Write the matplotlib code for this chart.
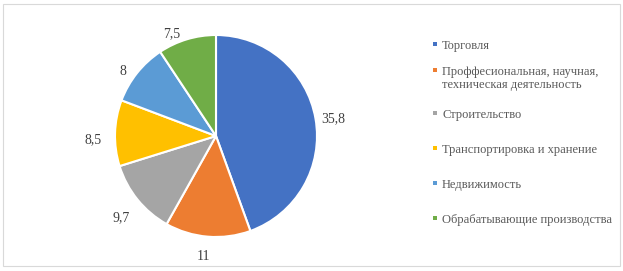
import numpy as np
import matplotlib.pyplot as plt
from matplotlib.patches import Rectangle

# --- данные ---
otrasli = [
    'Торговля',
    'Проффесиональная, научная,\nтехническая деятельность',
    'Строительство',
    'Транспортировка и хранение',
    'Недвижимость',
    'Обрабатывающие производства',
]
doli = [35.8, 11, 9.7, 8.5, 8, 7.5]
podpisi = ['35,8', '11', '9,7', '8,5', '8', '7,5']
cveta = ['#4472C4', '#ED7D31', '#A5A5A5', '#FFC000', '#5B9BD5', '#70AD47']

# размещение подписей (как у Excel «у края снаружи»): доля радиуса и сдвиг угла
lbl_r = [1.17, 1.20, 1.24, 1.22, 1.12, 1.10]
lbl_dang = [-1.5, -1, 1.5, 3.5, 3.5, 6.5]

plt.rcParams['font.family'] = ['Liberation Serif', 'DejaVu Serif']

W, H = 623, 271
fig = plt.figure(figsize=(W / 100, H / 100), dpi=100)

# рамка вокруг диаграммы
fig.patches.append(Rectangle((3 / W, 5 / H), 617 / W, 262 / H, transform=fig.transFigure,
                             fill=False, edgecolor='#D9D9D9', linewidth=0.8))

# круг: центр (216, 136) px, радиус ~101 px
cx, cy, r = 216, 136, 101
ax = fig.add_axes([(cx - r) / W, (H - cy - r) / H, 2 * r / W, 2 * r / H])
wedges, texts = ax.pie(doli, colors=cveta, labels=podpisi, startangle=90, counterclock=False,
                       wedgeprops=dict(edgecolor='white', linewidth=1.5),
                       textprops=dict(fontsize=10, color='#404040'))
for w, t, rr, da in zip(wedges, texts, lbl_r, lbl_dang):
    ang = np.deg2rad((w.theta1 + w.theta2) / 2 + da)
    t.set_position((rr * np.cos(ang), rr * np.sin(ang)))
    t.set_horizontalalignment('center')
    t.set_verticalalignment('center')
ax.set_xlim(-1, 1)
ax.set_ylim(-1, 1)
ax.set_aspect('equal')

# легенда вручную (как в Excel: многострочная подпись плотнее)
leg_y = [44, 70, 113, 148, 183, 218]  # px сверху, первая строка
for w, name, y in zip(wedges, otrasli, leg_y):
    fig.patches.append(Rectangle((433 / W, 1 - (y + 2) / H), 4 / W, 4 / H,
                                 transform=fig.transFigure, color=w.get_facecolor(), lw=0))
    fig.text(442 / W, 1 - (y - 4) / H, name, fontsize=9, color='#595959',
             ha='left', va='top', linespacing=1.1)

fig.savefig('out.png', dpi=100)
